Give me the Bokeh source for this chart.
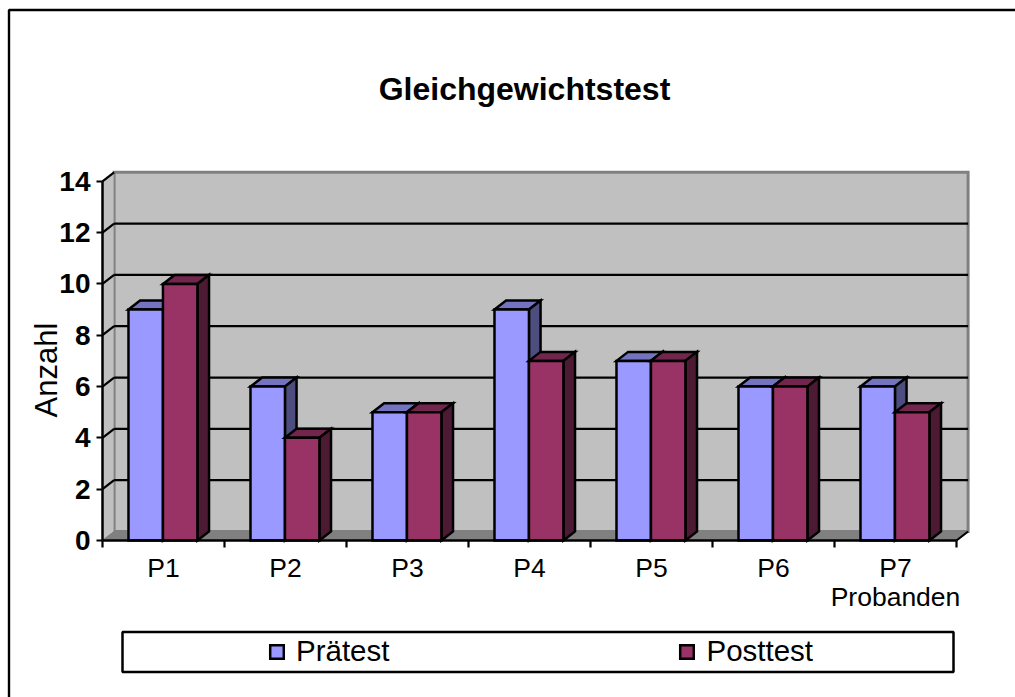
import math
from bokeh.plotting import figure
from bokeh.models import Range1d, FixedTicker, Label, BoxAnnotation, Legend, LegendItem
from bokeh.embed import file_html
from bokeh.resources import INLINE

categories = ["P1", "P2", "P3", "P4", "P5", "P6", "P7"]
pretest = [9, 6, 5, 9, 7, 6, 6]
posttest = [10, 4, 5, 7, 7, 6, 5]
y_ticks = [0, 2, 4, 6, 8, 10, 12, 14]
series_names = ["Prätest", "Posttest"]
title = "Gleichgewichtstest"
y_label = "Anzahl"
x_label = "Probanden"

FONT = "Liberation Sans"
W, H = 1015, 697
X0, Y0 = 102, 540        # pixel position of the axes' origin
ux = 122.0
uy = 25.66
DX = 11.6 / ux
DY = 9.0 / uy
n = len(categories)
ymax = y_ticks[-1]
BAR0, BARW = 0.213, 0.2825

def px(x):
    return (x - X0) / ux

def py(y):
    return (Y0 - y) / uy

p = figure(width=W, height=H, output_backend="svg", toolbar_location=None,
           x_range=Range1d(-X0 / ux, (W - X0) / ux), y_range=Range1d(-(H - Y0) / uy, Y0 / uy),
           min_border=0, background_fill_color="white", border_fill_color="white", outline_line_color=None)
p.grid.visible = False

# walls and floor
p.patch([DX, n + DX, n + DX, DX], [DY, DY, ymax + DY, ymax + DY], fill_color="#C0C0C0",
        line_color="#808080", line_width=3, line_join="miter")
p.patch([0, DX, DX, 0], [0, DY, ymax + DY, ymax], fill_color="#C0C0C0", line_color="#808080", line_width=1)
p.patch([0, n, n + DX, DX], [0, 0, DY, DY], fill_color="#808080", line_color="#808080", line_width=1)

# gridlines with their diagonal part on the side wall
inner = y_ticks[1:-1]
p.segment([DX] * len(inner), [v + DY for v in inner], [n + DX] * len(inner), [v + DY for v in inner],
          line_color="black", line_width=2.2)
p.segment([0] * len(y_ticks[1:]), y_ticks[1:], [DX] * len(y_ticks[1:]), [v + DY for v in y_ticks[1:]],
          line_color="black", line_width=2.2)
p.segment([n], [0], [n + DX], [DY], line_color="black", line_width=2.2)

# 3-D bars
def bars(values, offset, front, top, side):
    xs = [i + BAR0 + offset * BARW for i in range(n)]
    xe = [x + BARW for x in xs]
    p.patches([[a, b, b + DX, a + DX] for a, b in zip(xs, xe)],
              [[v, v, v + DY, v + DY] for v in values],
              fill_color=top, line_color="black", line_width=2.5, line_join="miter")
    p.patches([[b, b + DX, b + DX, b] for b in xe],
              [[0, DY, v + DY, v] for v in values],
              fill_color=side, line_color="black", line_width=2.5, line_join="miter")
    return p.quad(left=xs, right=xe, bottom=[0] * n, top=values, fill_color=front,
                  line_color="black", line_width=2.5, line_join="miter")

r1 = bars(pretest, 0, "#9999FF", "#7373BF", "#4D4D80")
r2 = bars(posttest, 1, "#993366", "#73264D", "#4D1A33")

# axes, anchored at the origin inside the full-canvas frame
xa = p.xaxis[0]
xa.fixed_location = 0
xa.bounds = (0, n)
xa.ticker = FixedTicker(ticks=[i + 0.5 for i in range(n)], minor_ticks=list(range(n + 1)))
xa.major_label_overrides = {i + 0.5: c for i, c in enumerate(categories)}
xa.major_tick_out = 0
xa.major_tick_in = 0
xa.minor_tick_out = 7
xa.minor_tick_in = 0
xa.minor_tick_line_color = "black"
xa.minor_tick_line_width = 2.2
xa.axis_line_color = "black"
xa.axis_line_width = 2.5
xa.major_label_text_font = FONT
xa.major_label_text_font_size = "26.5px"
xa.major_label_text_color = "black"
xa.major_label_standoff = 5

ya = p.yaxis[0]
ya.fixed_location = 0
ya.bounds = (0, ymax)
ya.ticker = FixedTicker(ticks=y_ticks)
ya.major_tick_out = 6
ya.major_tick_in = 0
ya.minor_tick_line_color = None
ya.major_tick_line_color = "black"
ya.major_tick_line_width = 2.2
ya.axis_line_color = "black"
ya.axis_line_width = 2.5
ya.major_label_text_font = FONT
ya.major_label_text_font_size = "28px"
ya.major_label_text_font_style = "bold"
ya.major_label_text_color = "black"
ya.major_label_standoff = 6

# title, y caption and the x caption under the last category
p.add_layout(Label(x=px(524), y=py(88), text=title, text_align="center", text_baseline="middle",
                   text_font=FONT, text_font_size="32px", text_font_style="bold", text_color="black"))
p.add_layout(Label(x=px(46), y=py(369.5), text=y_label, angle=math.pi / 2, text_align="center",
                   text_baseline="middle", text_font=FONT, text_font_size="31px", text_color="black"))
p.add_layout(Label(x=n - 0.5, y=py(596), text=x_label, text_align="center",
                   text_baseline="middle", text_font=FONT, text_font_size="26.5px", text_color="black"))

# legend frame, then the legend
p.add_layout(BoxAnnotation(left=px(122), right=px(953), top=py(631.5), bottom=py(671.5),
                           fill_color="white", fill_alpha=1, line_color="black", line_alpha=1,
                           line_width=2.5, level="overlay"))
legend = Legend(items=[LegendItem(label=series_names[0], renderers=[r1]),
                       LegendItem(label=series_names[1], renderers=[r2])],
                orientation="horizontal", location=(268, H - 668), padding=0, margin=0,
                spacing=289, glyph_width=17, glyph_height=17, label_standoff=11, label_height=24,
                border_line_color=None, background_fill_alpha=0, level="overlay",
                label_text_font=FONT, label_text_font_size="29.5px", label_text_color="black")
p.add_layout(legend)

# chart border: only its top and left edges fall inside the picture
p.add_layout(BoxAnnotation(left=px(8.5), right=px(W + 20), top=py(9.5), bottom=py(H + 20),
                           fill_alpha=0, line_color="black", line_alpha=1, line_width=2.4, level="overlay"))

open("out.html", "w").write(file_html(p, INLINE))
